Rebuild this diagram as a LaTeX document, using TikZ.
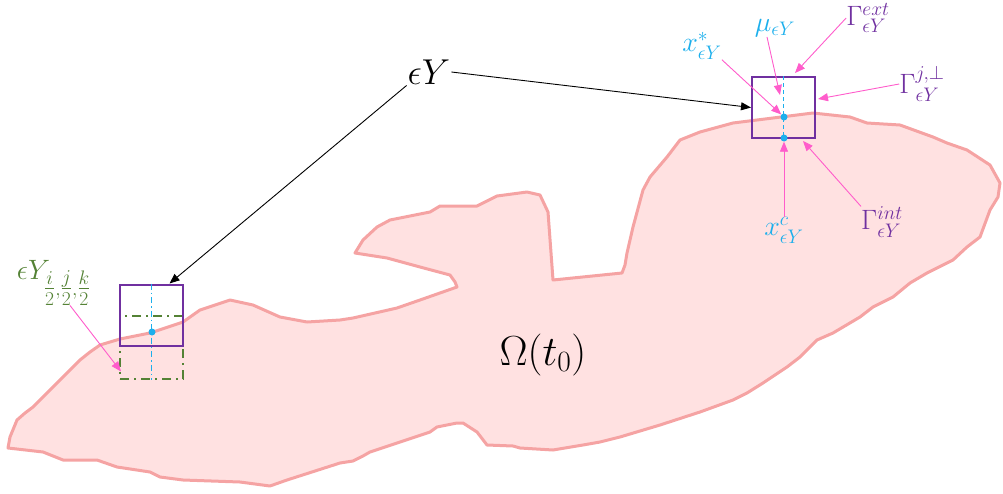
\RequirePackage{fix-cm}
\documentclass[tikz,border=0pt]{standalone}
\usepackage{amsmath,amssymb}
\usepackage{xcolor}
\usepackage{tikz}
\usetikzlibrary{arrows.meta,positioning}
\definecolor{regFill}{HTML}{FFE1E1}
\definecolor{regLine}{HTML}{F5A3A3}
\definecolor{cellPurple}{HTML}{7030A0}
\definecolor{ptCyan}{HTML}{1CAFEC}
\definecolor{subGreen}{HTML}{548235}
\definecolor{tagPink}{HTML}{FF5CCB}
\newcommand{\halfidx}[1]{\genfrac{}{}{}{1}{#1}{2}}

\begin{document}
\begin{tikzpicture}[x=1pt,y=-1pt,
  lbl/.style={inner sep=0pt,font=\fontsize{28}{32}\selectfont},
  tag/.style={-{Triangle[length=10pt,width=8pt]},tagPink,line width=0.9pt},
  ptr/.style={-{Triangle[length=10pt,width=8pt]},black,line width=0.9pt},
  cell/.style={draw=cellPurple,line width=2pt,minimum width=63pt,minimum height=61pt,inner sep=0pt},
  dot/.style={circle,fill=ptCyan,inner sep=0pt,minimum size=7pt}]
  \useasboundingbox (0,0) rectangle (1003,493);
  % the region Omega(t_0)
  \draw[regLine,fill=regFill,line width=3pt,line join=round]
    (8,448) -- (10,437) -- (17,420) -- (25,413) -- (33,407) -- (43,397) -- (53,387) -- (67,373)
    -- (80,360) -- (90,352) -- (100,345) -- (120,339) -- (150,333) -- (183,322) -- (200,310)
    -- (230,300) -- (253,305) -- (280,317) -- (307,322) -- (340,320) -- (353,318) -- (397,308)
    -- (420,300) -- (457,287) -- (455,282) -- (450,275) -- (420,267) -- (387,258) -- (355,253)
    -- (363,240) -- (377,227) -- (390,220) -- (430,212) -- (440,206) -- (477,206) -- (497,196)
    -- (527,192) -- (540,195) -- (548,212) -- (553,280) -- (622,273) -- (625,265) -- (627,253)
    -- (633,227) -- (643,190) -- (650,177) -- (667,157) -- (680,140) -- (700,132) -- (733,123)
    -- (773,118) -- (813,113) -- (850,117) -- (867,123) -- (900,125) -- (933,137) -- (947,143)
    -- (967,150) -- (990,165) -- (1000,183) -- (998,197) -- (990,210) -- (980,237) -- (967,247)
    -- (953,260) -- (927,273) -- (910,283) -- (893,297) -- (873,307) -- (860,317) -- (833,333)
    -- (817,340) -- (800,357) -- (787,367) -- (763,383) -- (747,393) -- (733,400) -- (700,412)
    -- (660,425) -- (620,437) -- (600,442) -- (583,445) -- (553,450) -- (520,448) -- (513,446)
    -- (487,445) -- (477,432) -- (463,423) -- (457,423) -- (437,427) -- (430,432) -- (400,442)
    -- (370,452) -- (363,456) -- (353,461) -- (340,463) -- (287,480) -- (270,486) -- (240,482)
    -- (183,480) -- (160,477) -- (150,472) -- (117,467) -- (97,460) -- (63,460) -- (43,452)
    -- cycle;
  \node[font=\fontsize{42}{48}\selectfont] (omega) at (543,355) {$\Omega(t_0)$};

  % cell on the boundary
  \node[cell] (cellR) at (783.5,107.5) {};
  \draw[ptCyan,line width=1pt,dash pattern=on 4pt off 3pt] (cellR.north) -- (cellR.south);
  \node[dot] (xstar) at (784,117) {};
  \node[dot] (xc) at (784,138) {};
  \coordinate (muPt) at (780,95);
  \coordinate (gextPt) at (795,73);
  \coordinate (gperpPt) at (818,99);
  \coordinate (gintPt) at (803,141);

  % cell with its shifted copy
  \node[draw=subGreen,line width=2pt,dash pattern=on 9pt off 5pt on 2pt off 5pt,
        minimum width=63pt,minimum height=63pt,inner sep=0pt] (half) at (151.5,347.5) {};
  \node[cell] (cellL) at (151.5,315) {};
  \draw[ptCyan,line width=1pt,dash pattern=on 6pt off 3pt on 1.5pt off 3pt] (cellL.north) -- (half.south);
  \node[dot] (xl) at (152,332) {};

  % labels
  \node[font=\fontsize{36}{42}\selectfont,inner sep=1pt] (eY) at (429,72) {$\epsilon Y$};
  \node[lbl,ptCyan] (xstarL) at (702,46) {$x^{*}_{\epsilon Y}$};
  \node[lbl,ptCyan] (muL) at (775,28) {$\mu_{\epsilon Y}$};
  \node[lbl,cellPurple] (gextL) at (868,18) {$\Gamma^{ext}_{\epsilon Y}$};
  \node[lbl,cellPurple] (gperpL) at (922,84) {$\Gamma^{j,\perp}_{\epsilon Y}$};
  \node[lbl,ptCyan] (xcL) at (784,230) {$x^{c}_{\epsilon Y}$};
  \node[lbl,cellPurple] (gintL) at (882,222) {$\Gamma^{int}_{\epsilon Y}$};
  \node[lbl,subGreen] (halfL) at (54,283) {$\epsilon Y_{\halfidx{i},\halfidx{j},\halfidx{k}}$};

  % arrows
  \draw[ptr] (eY.east) -- (cellR.west);
  \draw[ptr] (eY.south west) -- ([xshift=18pt]cellL.north);
  \draw[tag] (xstarL.south east) -- (xstar);
  \draw[tag] ([xshift=-8pt]muL.south) -- (muPt);
  \draw[tag] (gextL.west) -- (gextPt);
  \draw[tag] (gperpL.west) -- (gperpPt);
  \draw[tag] (xcL.north) -- (xc);
  \draw[tag] (gintL.north west) -- (gintPt);
  \draw[tag] ([xshift=16pt]halfL.south) -- ([xshift=2pt,yshift=-24pt]half.west);
\end{tikzpicture}
\end{document}
